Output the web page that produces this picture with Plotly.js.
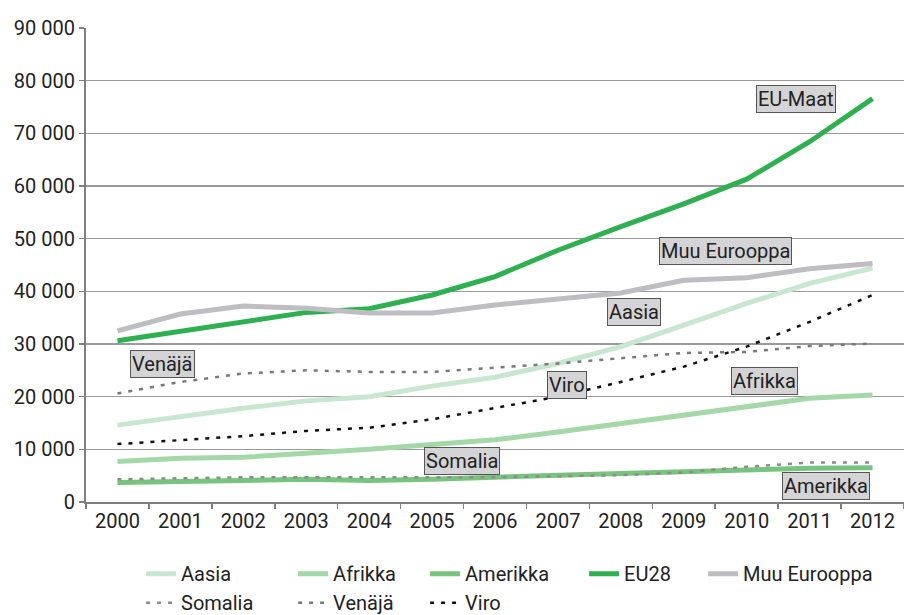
<!DOCTYPE html>
<html>
<head>
<meta charset="utf-8">
<script src="https://cdn.plot.ly/plotly-3.0.1.min.js"></script>
<style>
  html, body { margin: 0; padding: 0; background: #fff; }
  #chart { width: 904px; height: 615px; }
</style>
</head>
<body>
<div id="chart"></div>
<script>
var years = ['2000', '2001', '2002', '2003', '2004', '2005', '2006',
             '2007', '2008', '2009', '2010', '2011', '2012'];

var aasia       = [14600, 16300, 17800, 19200, 20000, 22000, 23700, 26300, 29500, 33600, 37700, 41500, 44400];
var afrikka     = [7700, 8300, 8500, 9200, 10000, 10900, 11800, 13300, 14900, 16500, 18200, 19700, 20300];
var amerikka    = [3700, 4000, 4100, 4300, 4100, 4300, 4800, 5100, 5400, 5800, 6100, 6400, 6500];
var eu28        = [30600, 32400, 34000, 36000, 36700, 39300, 42800, 47800, 52300, 56600, 61300, 68400, 76600];
var muuEurooppa = [32500, 35700, 37200, 36800, 35900, 35900, 37400, 38500, 39700, 42100, 42600, 44300, 45300];
var somalia     = [4300, 4500, 4700, 4700, 4700, 4700, 4700, 4900, 5100, 5600, 6700, 7500, 7500];
var venaja      = [20600, 22800, 24400, 25000, 24700, 24700, 25500, 26300, 27300, 28300, 28500, 29600, 30100];
var viro        = [11000, 11800, 12500, 13500, 14100, 15700, 17800, 20000, 22800, 25700, 29500, 34200, 39300];

// label boxes on the lines
var labelTexts = ['EU-Maat', 'Muu Eurooppa', 'Aasia', 'Venäjä', 'Viro', 'Afrikka', 'Somalia', 'Amerikka'];
var labelX     = [10.79, 9.67, 8.21, 0.72, 7.15, 10.28, 5.48, 11.26];
var labelY     = [76600, 47650, 36070, 26200, 22200, 22970, 7780, 3040];

var FONT = 'Roboto, Arial, sans-serif';

function solid(name, y, color, leg) {
  return {
    type: 'scatter', mode: 'lines', name: name, x: years, y: y,
    line: { color: color, width: 5 }, legend: leg
  };
}

function dotted(name, y, color, leg) {
  return {
    type: 'scatter', mode: 'lines', name: name, x: years, y: y,
    line: { color: color, width: 2.5, dash: '4px,7px' }, legend: leg
  };
}

// legend is laid out as columns: one small legend per column
var data = [
  solid('Aasia', aasia, '#c8e6d0', 'legend'),
  solid('Afrikka', afrikka, '#a5d8a8', 'legend2'),
  solid('Amerikka', amerikka, '#78c47e', 'legend3'),
  solid('EU28', eu28, '#2fb050', 'legend4'),
  solid('Muu Eurooppa', muuEurooppa, '#bdbdc2', 'legend5'),
  dotted('Somalia', somalia, '#8c8c8c', 'legend'),
  dotted('Venäjä', venaja, '#7a7a7a', 'legend2'),
  dotted('Viro', viro, '#111111', 'legend3')
];

var annotations = labelTexts.map(function (t, i) {
  return {
    text: t, x: labelX[i], y: labelY[i], xref: 'x', yref: 'y',
    showarrow: false, bgcolor: '#d4d4d6', bordercolor: '#555555',
    borderwidth: 1, borderpad: 1,
    font: { family: FONT, size: 20, color: '#222' }
  };
});

var legendFont = { family: FONT, size: 20, color: '#222' };
var colX = [0.0673, 0.2532, 0.4145, 0.6089, 0.7544];

function legendAt(x) {
  return {
    orientation: 'v', x: x, xanchor: 'left', y: -0.11, yanchor: 'top',
    tracegroupgap: 0, font: legendFont, bgcolor: 'rgba(0,0,0,0)'
  };
}

var layout = {
  width: 904, height: 615,
  margin: { l: 86, r: 0, t: 28, b: 113, autoexpand: false },
  paper_bgcolor: '#ffffff', plot_bgcolor: '#ffffff',
  separators: ', ',
  font: { family: FONT, size: 20, color: '#222' },
  xaxis: {
    type: 'category', range: [-0.5, 12.5],
    tickson: 'boundaries',
    ticks: 'outside', ticklen: 5, tickcolor: '#808080', tickwidth: 1.5,
    showline: true, linecolor: '#808080', linewidth: 2,
    showgrid: false,
    tickfont: { family: FONT, size: 20, color: '#222' }
  },
  yaxis: {
    range: [0, 90000], dtick: 10000, tickformat: ',d',
    ticks: 'outside', ticklen: 5, tickcolor: '#808080', tickwidth: 1.5,
    showline: true, linecolor: '#808080', linewidth: 2,
    showgrid: true, gridcolor: '#9a9a9a', gridwidth: 1.5,
    zeroline: false,
    tickfont: { family: FONT, size: 20, color: '#222' }
  },
  legend: legendAt(colX[0]),
  legend2: legendAt(colX[1]),
  legend3: legendAt(colX[2]),
  legend4: legendAt(colX[3]),
  legend5: legendAt(colX[4]),
  annotations: annotations,
  showlegend: true
};

var config = { staticPlot: true, displayModeBar: false };

Plotly.newPlot('chart', data, layout, config);
</script>
</body>
</html>
